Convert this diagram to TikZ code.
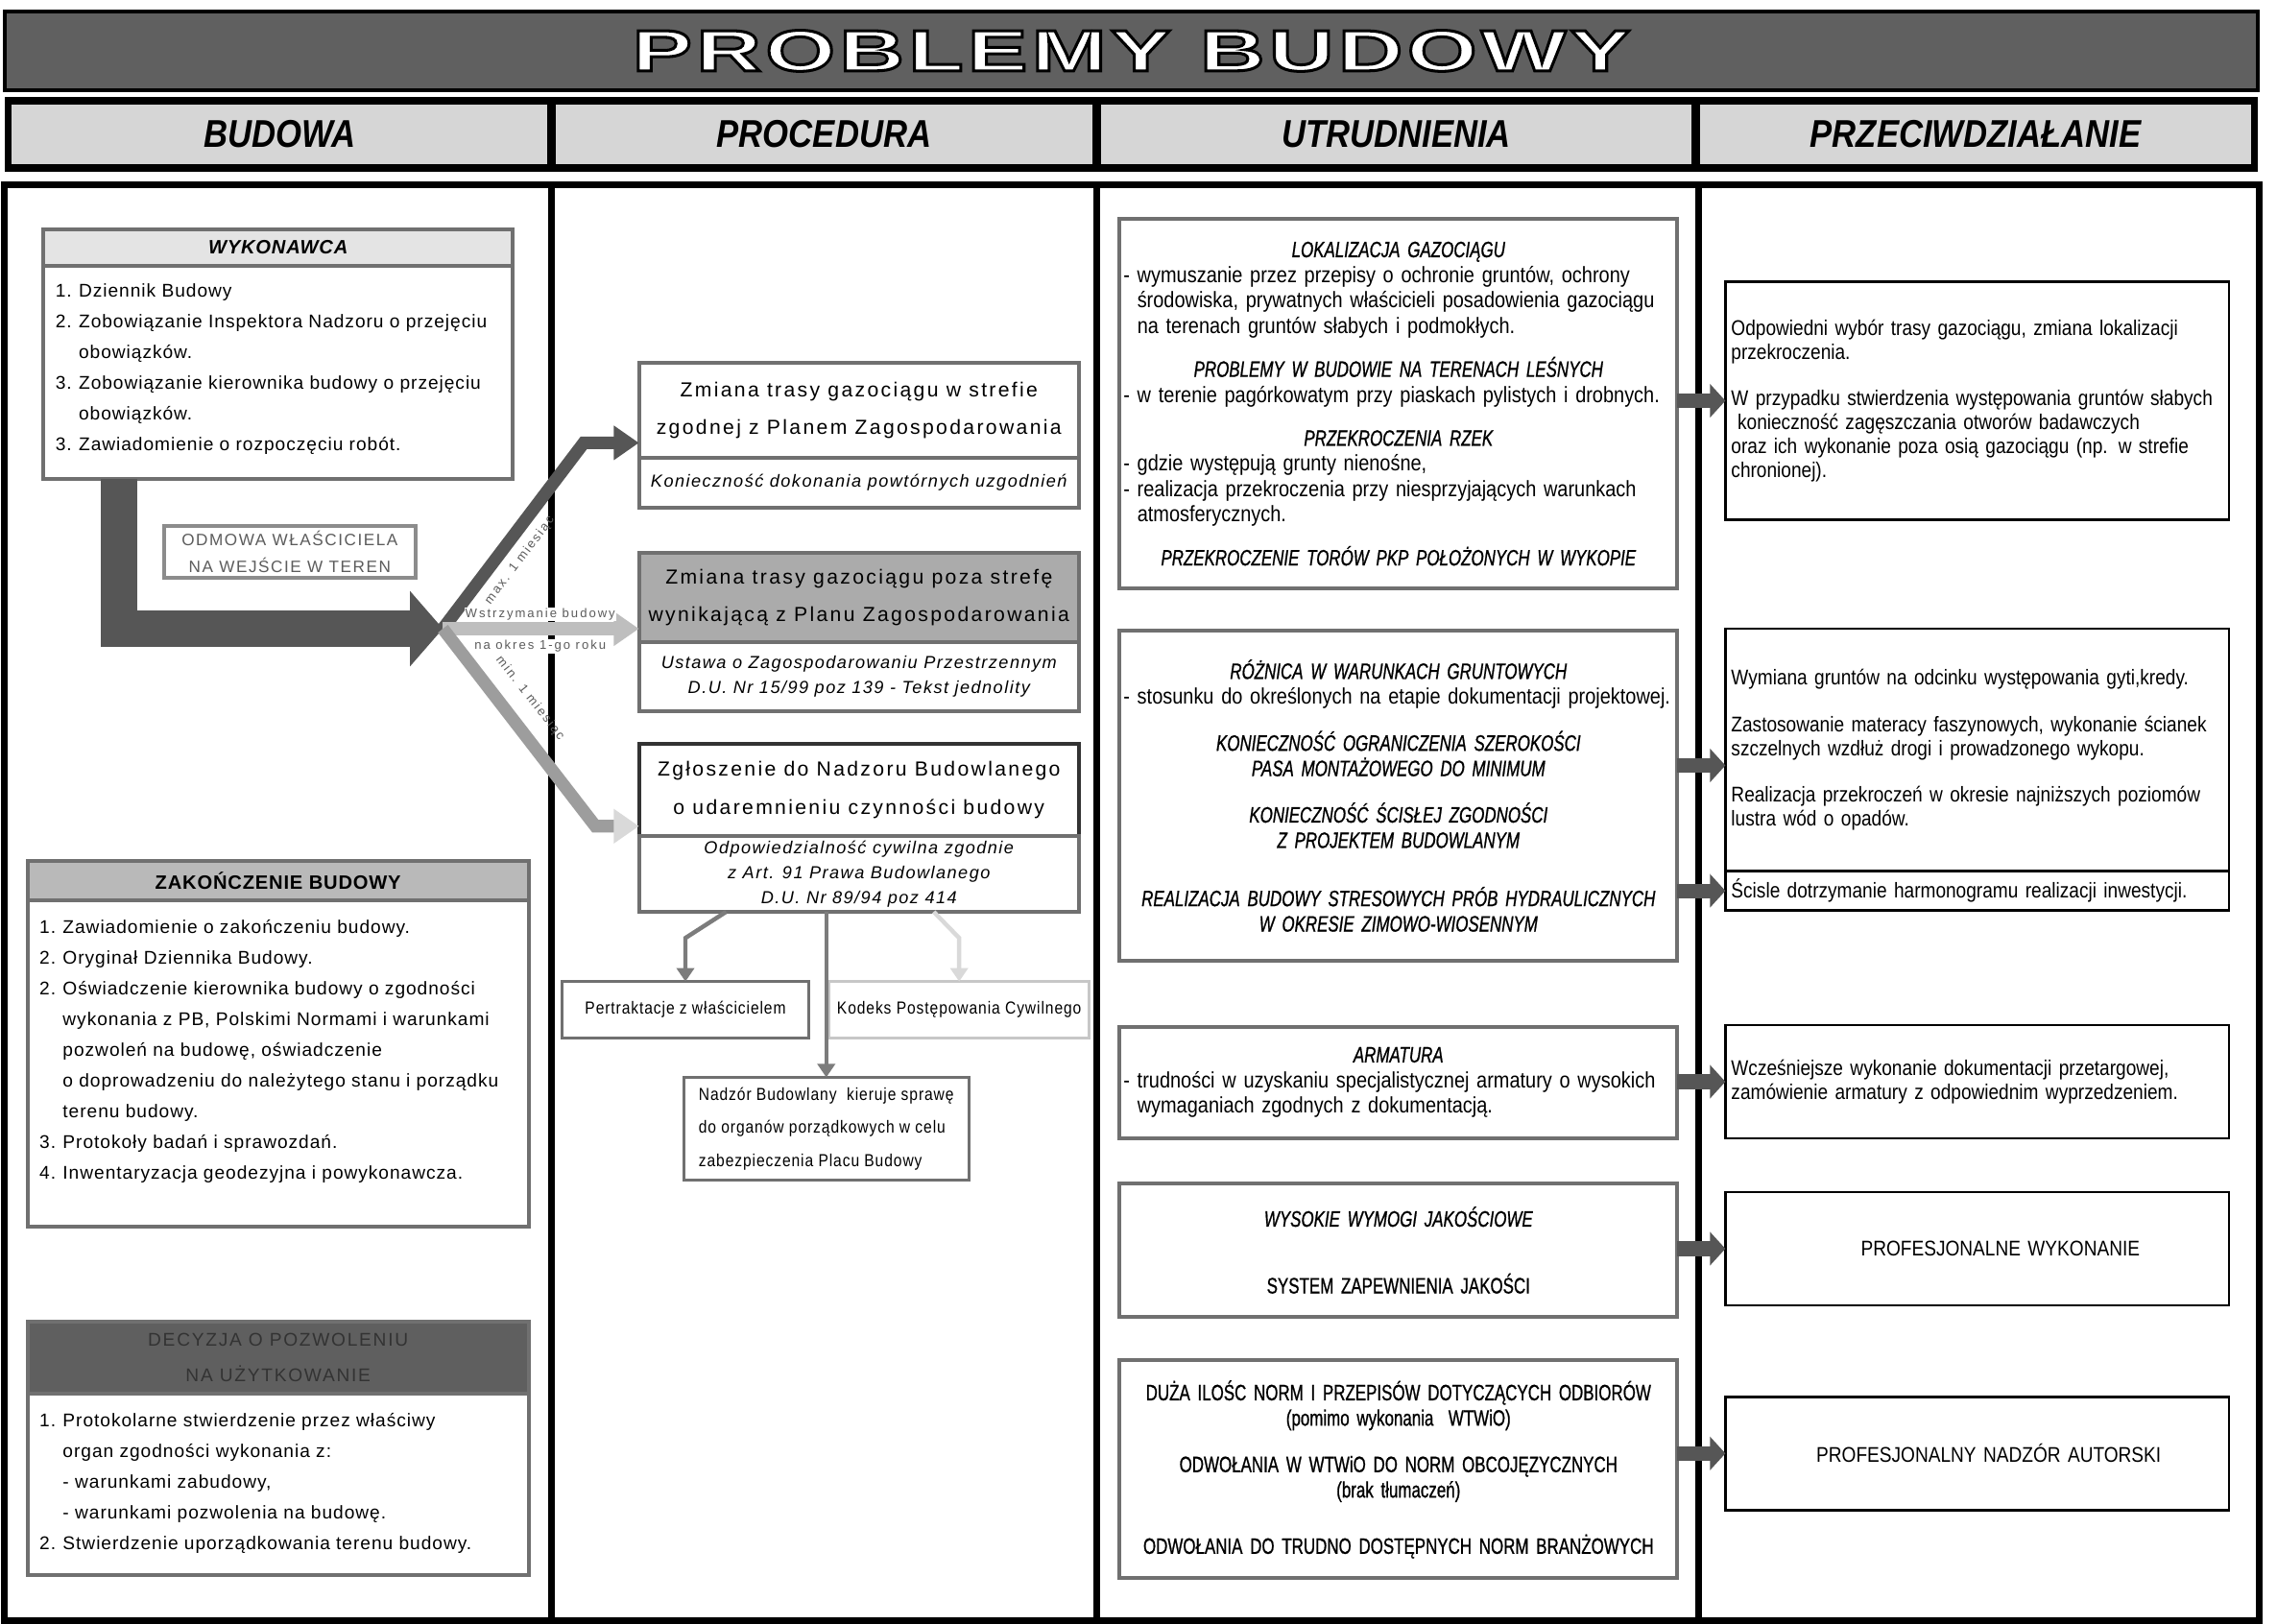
\documentclass[tikz,border=0pt]{standalone}
\usepackage{fontspec}
\setmainfont{Liberation Sans}
\newfontfamily\narrowsf[FakeStretch=0.86]{Liberation Sans}
\newfontfamily\capsf[FakeStretch=0.73,FakeBold=0.8]{Liberation Sans}
\newfontfamily\widesf[FakeStretch=1.55,LetterSpace=7,FakeBold=5]{Liberation Sans}
\usetikzlibrary{arrows.meta,positioning,calc}
\definecolor{titlegray}{HTML}{606060}
\definecolor{cellgray}{HTML}{D6D6D6}
\definecolor{boxline}{HTML}{707070}
\definecolor{headlight}{HTML}{E4E4E4}
\definecolor{headmid}{HTML}{B9B9B9}
\definecolor{headdark}{HTML}{5F5F5F}
\definecolor{fillmid}{HTML}{ABABAB}
\definecolor{arrdark}{HTML}{565656}
\definecolor{arrmid}{HTML}{7C7C7C}
\definecolor{arrlight}{HTML}{BEBEBE}
\definecolor{arrpale}{HTML}{D9D9D9}
\definecolor{labelgray}{HTML}{5C5C5C}
\newcommand{\pozno}[1]{\makebox[12pt][l]{#1}}
\newcommand{\pozind}{\hspace*{12pt}}
\newcommand{\tytul}[1]{\makebox[\hsize]{\capsf\itshape #1}}
\newcommand{\srodek}[1]{\makebox[\hsize]{\capsf #1}}
\newcommand{\myslnik}{\phantom{- }}

\begin{document}
\begin{tikzpicture}[x=0.75pt,y=-0.75pt,>=Latex,
 bar/.style={draw=black,line width=2pt,inner sep=0pt},
 ttltxt/.style={inner sep=0pt,font=\widesf\bfseries\fontsize{30}{32}\selectfont},
 hcell/.style={fill=cellgray,inner sep=0pt,minimum height=30.75pt,
  font=\narrowsf\bfseries\itshape\fontsize{20}{22}\selectfont},
 panel/.style={draw=boxline,line width=2pt,fill=white,inner sep=0pt,outer sep=0pt},
 bandhead/.style={draw=boxline,line width=2pt,inner sep=0pt,outer sep=0pt,anchor=north,align=center},
 listtxt/.style={anchor=north west,align=left,inner sep=0pt,
  font=\fontsize{9.5}{15.9}\selectfont\addfontfeatures{LetterSpace=5}},
 zmbox/.style={draw=boxline,line width=2pt,fill=white,inner sep=0pt,outer sep=0pt,align=center,
  minimum width=227.25pt,font=\fontsize{10.5}{19.5}\selectfont\addfontfeatures{LetterSpace=11}},
 zmnote/.style={zmbox,font=\itshape\fontsize{9}{12.75}\selectfont\addfontfeatures{LetterSpace=8}},
 smallbox/.style={draw=boxline,line width=1.5pt,fill=white,inner sep=0pt,outer sep=0pt,align=center,
  font=\narrowsf\fontsize{9}{17.25}\selectfont\addfontfeatures{LetterSpace=5}},
 trud/.style={draw=boxline,line width=2pt,fill=white,inner xsep=2pt,inner ysep=0pt,outer sep=0pt,
  text width=284pt,align=left,font=\narrowsf\fontsize{11.5}{13.1}\selectfont},
 przec/.style={draw=black,line width=1.3pt,fill=white,inner xsep=3pt,inner ysep=0pt,outer sep=0pt,
  text width=254pt,align=left,font=\narrowsf\fontsize{11}{12.4}\selectfont},
 bigarr/.style={draw=arrdark,line width=18.75pt,-{Triangle[length=17pt,width=38pt]}},
 brancharr/.style={line width=6.5pt,-{Triangle[length=13pt,width=17pt]}},
 sidearr/.style={draw=arrdark,line width=7.5pt,-{Triangle[length=8pt,width=17pt]}},
 thinarr/.style={line width=2.2pt,-{Triangle[length=7pt,width=9pt]}},
 tag/.style={inner sep=0.6pt,text=labelgray,font=\fontsize{6.5}{7}\selectfont\addfontfeatures{LetterSpace=15}}]
\useasboundingbox (0,0) rectangle (1568,1118);
\fill[white] (0,0) rectangle (1568,1118);
% title
\node[bar,fill=titlegray,minimum width=1164pt,minimum height=40.5pt] (ttlbar) at (779,35) {};
\node[ttltxt,text=white] (ttl) at (ttlbar.center) {\special{pdf:literal direct 0 0 0 RG}PROBLEMY BUDOWY};
% column heads
\fill[black] (3,67) rectangle (1555,118);
\node[hcell,minimum width=276.75pt] (hbud) at (192.5,92.5) {BUDOWA};
\node[hcell,minimum width=276.75pt] (hproc) at (567.5,92.5) {PROCEDURA};
\node[hcell,minimum width=305.25pt] (hutr) at (961.5,92.5) {UTRUDNIENIA};
\node[hcell,minimum width=284.25pt] (hprz) at (1360.5,92.5) {PRZECIWDZIAŁANIE};
% body frame
\draw[line width=3.5pt] (3,127) rectangle (1556,1116);
\foreach \xc in {380,755,1170}
  \draw[line width=3.5pt] (\xc,127) -- (\xc,1116);

% budowa
\node[panel,minimum width=242.25pt,minimum height=129pt] (wyk) at (191.5,244) {};
\node[bandhead,fill=headlight,minimum width=242.25pt,minimum height=18.75pt,
  font=\bfseries\itshape\fontsize{10}{12}\selectfont\addfontfeatures{LetterSpace=4}] (wykhead) at (wyk.north) {WYKONAWCA};
\node[listtxt] (wyklist) at (38,195) {\pozno{1.}Dziennik Budowy\\
 \pozno{2.}Zobowiązanie Inspektora Nadzoru o przejęciu\\
 \pozind obowiązków.\\
 \pozno{3.}Zobowiązanie kierownika budowy o przejęciu\\
 \pozind obowiązków.\\
 \pozno{3.}Zawiadomienie o rozpoczęciu robót.};
\node[panel,draw=black!45,minimum width=129.75pt,minimum height=27pt,align=center,
  text=labelgray,font=\fontsize{8.5}{14.25}\selectfont\addfontfeatures{LetterSpace=9}] (odmowa) at (199.5,380)
  {ODMOWA WŁAŚCICIELA\\NA WEJŚCIE W TEREN};
\coordinate (split) at (305,433);
\draw[bigarr] ($(wyk.south west)+(52,0)$) |- (split);

\node[panel,minimum width=258.75pt,minimum height=189pt] (zak) at (191.5,719) {};
\node[bandhead,fill=headmid,minimum width=258.75pt,minimum height=20.25pt,
  font=\bfseries\fontsize{10}{12}\selectfont\addfontfeatures{LetterSpace=4}] (zakhead) at (zak.north) {ZAKOŃCZENIE BUDOWY};
\node[listtxt] (zaklist) at (27,633) {\pozno{1.}Zawiadomienie o zakończeniu budowy.\\
 \pozno{2.}Oryginał Dziennika Budowy.\\
 \pozno{2.}Oświadczenie kierownika budowy o zgodności\\
 \pozind wykonania z PB, Polskimi Normami i warunkami\\
 \pozind pozwoleń na budowę, oświadczenie\\
 \pozind o doprowadzeniu do należytego stanu i porządku\\
 \pozind terenu budowy.\\
 \pozno{3.}Protokoły badań i sprawozdań.\\
 \pozno{4.}Inwentaryzacja geodezyjna i powykonawcza.};

\node[panel,minimum width=258.75pt,minimum height=131.25pt] (dec) at (191.5,997.5) {};
\node[bandhead,fill=headdark,minimum width=258.75pt,minimum height=37.5pt,text=black!80,
  font=\fontsize{9.5}{18}\selectfont\addfontfeatures{LetterSpace=9}] (dechead) at (dec.north) {DECYZJA O POZWOLENIU\\NA UŻYTKOWANIE};
\node[listtxt] (declist) at (27,973) {\pozno{1.}Protokolarne stwierdzenie przez właściwy\\
 \pozind organ zgodności wykonania z:\\
 \pozind - warunkami zabudowy,\\
 \pozind - warunkami pozwolenia na budowę.\\
 \pozno{2.}Stwierdzenie uporządkowania terenu budowy.};

% procedura
\node[zmbox,minimum height=48.75pt] (zmA) at (591.5,282.5) {Zmiana trasy gazociągu w strefie\\zgodnej z Planem Zagospodarowania};
\node[zmnote,minimum height=26.25pt,below=0pt of zmA] (zmAnote) {Konieczność dokonania powtórnych uzgodnień};
\node[zmbox,fill=fillmid,minimum height=45.75pt] (zmB) at (591.5,411.5) {Zmiana trasy gazociągu poza strefę\\wynikającą z Planu Zagospodarowania};
\node[zmnote,minimum height=36pt,below=0pt of zmB] (zmBnote) {Ustawa o Zagospodarowaniu Przestrzennym\\D.U. Nr 15/99 poz 139 - Tekst jednolity};
\node[zmbox,draw=black!80,minimum height=48pt] (zmC) at (591.5,544) {Zgłoszenie do Nadzoru Budowlanego\\o udaremnieniu czynności budowy};
\node[zmnote,minimum height=39pt,below=0pt of zmC] (zmCnote) {Odpowiedzialność cywilna zgodnie\\z Art. 91 Prawa Budowlanego\\D.U. Nr 89/94 poz 414};
\node[smallbox,minimum width=127.5pt,minimum height=29.25pt] (pert) at (472,695.5) {Pertraktacje z właścicielem};
\node[smallbox,draw=black!22,minimum width=134.25pt,minimum height=29.25pt] (kod) at (660.5,695.5) {Kodeks Postępowania Cywilnego};
\node[smallbox,align=left,minimum width=147pt,minimum height=53.25pt] (nadz) at (569,777.5)
  {Nadzór Budowlany\ \ kieruje sprawę\\do organów porządkowych w celu\\zabezpieczenia Placu Budowy};

\draw[brancharr,draw=arrdark] (split) -- ($(zmA.south west)+(-38,-10)$) -- ($(zmA.south west)+(0,-10)$);
\draw[brancharr,draw=arrlight] (split) -- (split -| zmB.west);
\draw[brancharr,draw=arrmid!75!white,-{Triangle[length=13pt,width=17pt,color=arrpale]}] (split) -- ($(zmC.south west)+(-30,-7)$) -- ($(zmC.south west)+(0,-7)$);
\node[tag,rotate=53] (maxtag) at (358,386) {max. 1 miesiąc};
\node[tag,rotate=-52] (mintag) at (365,481) {min. 1 miesiąc};
\node[tag,fill=white] (stoptag) at (372,423) {Wstrzymanie budowy};
\node[tag,fill=white] (stoptagb) at (372,445) {na okres 1-go roku};

\draw[thinarr,draw=arrmid] ($(zmCnote.south west)+(60,0)$) -- ($(pert.north)+(0,-30)$) -- (pert.north);
\draw[thinarr,draw=arrmid] (zmCnote.south -| nadz.north) -- (nadz.north);
\draw[thinarr,draw=arrpale] ($(zmCnote.south east)+(-100,0)$) -- ($(kod.north)+(0,-30)$) -- (kod.north);

% utrudnienia
\node[trud,minimum height=190.5pt] (u1) at (963,278) {%
\tytul{LOKALIZACJA GAZOCIĄGU}\\
- wymuszanie przez przepisy o ochronie gruntów, ochrony\\
\myslnik środowiska, prywatnych właścicieli posadowienia gazociągu\\
\myslnik na terenach gruntów słabych i podmokłych.\\[9.4pt]
\tytul{PROBLEMY W BUDOWIE NA TERENACH LEŚNYCH}\\
- w terenie pagórkowatym przy piaskach pylistych i drobnych.\\[9.4pt]
\tytul{PRZEKROCZENIA RZEK}\\
- gdzie występują grunty nienośne,\\
- realizacja przekroczenia przy niesprzyjających warunkach\\
\myslnik atmosferycznych.\\[9.4pt]
\tytul{PRZEKROCZENIE TORÓW PKP POŁOŻONYCH W WYKOPIE}};
\node[trud,minimum height=171pt] (u2) at (963,548) {%
\tytul{RÓŻNICA W WARUNKACH GRUNTOWYCH}\\
- stosunku do określonych na etapie dokumentacji projektowej.\\[10.9pt]
\tytul{KONIECZNOŚĆ OGRANICZENIA SZEROKOŚCI}\\
\tytul{PASA MONTAŻOWEGO DO MINIMUM}\\[10.9pt]
\tytul{KONIECZNOŚĆ ŚCISŁEJ ZGODNOŚCI}\\
\tytul{Z PROJEKTEM BUDOWLANYM}\\[17pt]
\tytul{REALIZACJA BUDOWY STRESOWYCH PRÓB HYDRAULICZNYCH}\\
\tytul{W OKRESIE ZIMOWO-WIOSENNYM}};
\node[trud,minimum height=57.75pt] (u3) at (963,745.5) {%
\tytul{ARMATURA}\\
- trudności w uzyskaniu specjalistycznej armatury o wysokich\\
\myslnik wymaganiach zgodnych z dokumentacją.};
\node[trud,minimum height=69pt] (u4) at (963,861) {%
\tytul{WYSOKIE WYMOGI JAKOŚCIOWE}\\[21.4pt]
\srodek{SYSTEM ZAPEWNIENIA JAKOŚCI}};
\node[trud,minimum height=112.5pt] (u5) at (963,1012) {%
\srodek{DUŻA ILOŚC NORM I PRZEPISÓW DOTYCZĄCYCH ODBIORÓW}\\
\srodek{(pomimo wykonania\ \ WTWiO)}\\[10.9pt]
\srodek{ODWOŁANIA W WTWiO DO NORM OBCOJĘZYCZNYCH}\\
\srodek{(brak tłumaczeń)}\\[16pt]
\srodek{ODWOŁANIA DO TRUDNO DOSTĘPNYCH NORM BRANŻOWYCH}};

% przeciwdzialanie
\node[przec,minimum height=123pt] (p1) at (1361.5,276) {%
Odpowiedni wybór trasy gazociągu, zmiana lokalizacji\\
przekroczenia.\\[11.6pt]
W przypadku stwierdzenia występowania gruntów słabych\\
\hspace*{0.3em}konieczność zagęszczania otworów badawczych\\
oraz ich wykonanie poza osią gazociągu (np. w strefie\\
chronionej).};
\node[przec,minimum height=125.25pt] (p2) at (1361.5,516.5) {%
Wymiana gruntów na odcinku występowania gyti,kredy.\\[11.6pt]
Zastosowanie materacy faszynowych, wykonanie ścianek\\
szczelnych wzdłuż drogi i prowadzonego wykopu.\\[11.6pt]
Realizacja przekroczeń w okresie najniższych poziomów\\
lustra wód o opadów.};
\node[przec,minimum height=20.25pt,below=0pt of p2] (p2b) {Ścisle dotrzymanie harmonogramu realizacji inwestycji.};
\node[przec,minimum height=58.5pt] (p3) at (1361.5,745) {%
Wcześniejsze wykonanie dokumentacji przetargowej,\\
zamówienie armatury z odpowiednim wyprzedzeniem.};
\node[przec,minimum height=58.5pt] (p4) at (1361.5,860) {\makebox[\hsize]{\hspace*{24pt}\fontsize{11}{12}\selectfont PROFESJONALNE WYKONANIE}};
\node[przec,minimum height=58.5pt] (p5) at (1361.5,1001) {\makebox[\hsize]{\hspace*{12pt}\fontsize{11}{12}\selectfont PROFESJONALNY NADZÓR AUTORSKI}};

\draw[sidearr] (p1.west -| u1.east) -- (p1.west);
\draw[sidearr] ([yshift=-8pt]p2.west -| u2.east) -- ([yshift=-8pt]p2.west);
\draw[sidearr] (p2b.west -| u2.east) -- (p2b.west);
\draw[sidearr] (p3.west -| u3.east) -- (p3.west);
\draw[sidearr] (p4.west -| u4.east) -- (p4.west);
\draw[sidearr] (p5.west -| u5.east) -- (p5.west);
\end{tikzpicture}
\end{document}
